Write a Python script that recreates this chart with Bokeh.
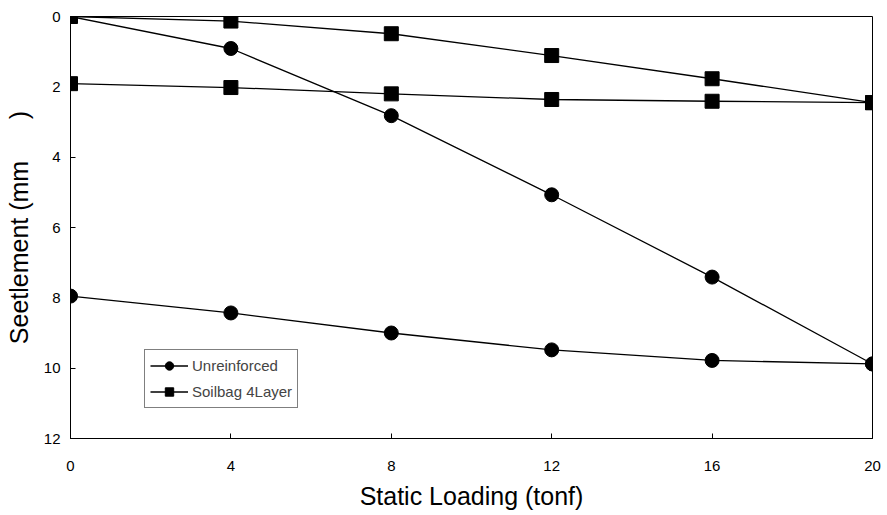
from bokeh.plotting import figure
from bokeh.models import Range1d, Legend, LegendItem, FixedTicker
from bokeh.embed import file_html
from bokeh.resources import INLINE

# Data
load = [0, 4, 8, 12, 16, 20]
unload = [20, 16, 12, 8, 4, 0]
unre_load = [0.0, 0.91, 2.82, 5.07, 7.41, 9.88]
unre_unload = [9.88, 9.78, 9.48, 9.0, 8.43, 7.95]
soil_load = [0.0, 0.13, 0.49, 1.11, 1.77, 2.45]
soil_unload = [2.45, 2.41, 2.36, 2.2, 2.02, 1.91]
x_ticks = [0, 4, 8, 12, 16, 20]
y_ticks = [0, 2, 4, 6, 8, 10, 12]

FONT = "Liberation Sans"

p = figure(width=885, height=515, output_backend="svg", toolbar_location=None,
           x_range=Range1d(0, 20), y_range=Range1d(12, 0),
           min_border_left=70, min_border_right=13, min_border_top=16, min_border_bottom=77)
p.xgrid.visible = False
p.ygrid.visible = False
p.outline_line_color = "black"
p.outline_line_width = 1
p.background_fill_color = "white"
p.border_fill_color = "white"

for ax in (p.xaxis[0], p.yaxis[0]):
    ax.major_tick_in = 5
    ax.major_tick_out = 0
    ax.minor_tick_in = 0
    ax.minor_tick_out = 0
    ax.axis_line_color = "black"
    ax.major_tick_line_color = "black"
    ax.major_label_text_font = FONT
    ax.major_label_text_font_size = "15px"
    ax.major_label_text_color = "black"
    ax.axis_label_text_font = FONT
    ax.axis_label_text_font_size = "25px"
    ax.axis_label_text_font_style = "normal"
    ax.axis_label_text_color = "black"

p.xaxis[0].ticker = FixedTicker(ticks=x_ticks)
p.yaxis[0].ticker = FixedTicker(ticks=y_ticks)
p.xaxis[0].axis_label = "Static Loading (tonf)"
p.yaxis[0].axis_label = "Seetlement (mm\u00a0\u00a0\u00a0\u00a0\u00a0\u00a0)"
p.xaxis[0].major_label_standoff = 22
p.xaxis[0].axis_label_standoff = 8
p.yaxis[0].major_label_standoff = 10
p.yaxis[0].axis_label_standoff = 8

lw = 1.3
l1 = p.line(load, unre_load, line_color="black", line_width=lw)
p.line(unload, unre_unload, line_color="black", line_width=lw)
m1 = p.scatter(load, unre_load, marker="circle", size=14, fill_color="black", line_color="black")
p.scatter(unload, unre_unload, marker="circle", size=14, fill_color="black", line_color="black")

l2 = p.line(load, soil_load, line_color="black", line_width=lw)
p.line(unload, soil_unload, line_color="black", line_width=lw)
m2 = p.scatter(load, soil_load, marker="square", size=14, fill_color="black", line_color="black")
p.scatter(unload, soil_unload, marker="square", size=14, fill_color="black", line_color="black")

legend = Legend(items=[LegendItem(label="Unreinforced", renderers=[l1, m1]),
                       LegendItem(label="Soilbag 4Layer", renderers=[l2, m2])],
                location=(74, 30))
legend.border_line_color = "black"
legend.border_line_width = 1
legend.label_text_font = FONT
legend.label_text_font_size = "15px"
legend.glyph_width = 38
legend.glyph_height = 21
legend.spacing = 5
legend.padding = 5
legend.margin = 0
legend.label_standoff = 4
legend.background_fill_alpha = 1
p.add_layout(legend, "center")

open("out.html", "w").write(file_html(p, INLINE))
